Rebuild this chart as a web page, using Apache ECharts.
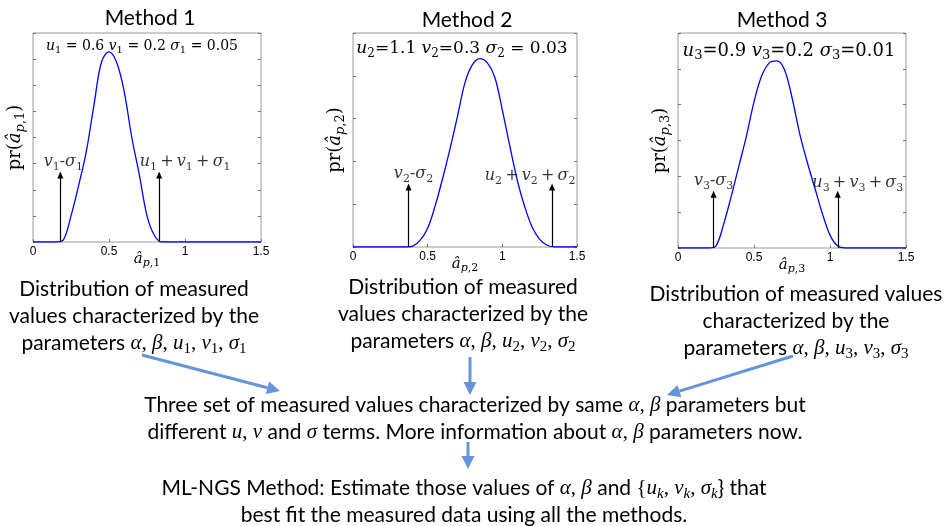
<!DOCTYPE html>
<html>
<head>
<meta charset="utf-8">
<script src="https://cdn.jsdelivr.net/npm/echarts@6/dist/echarts.min.js"></script>
<style>
  html, body { margin: 0; padding: 0; background: #ffffff; }
  #chart { width: 944px; height: 526px; }
</style>
</head>
<body>
<div id="chart"></div>
<script>
// Sample positions along the estimate axis (shared by all three methods)
const xGrid = [0, 0.05, 0.1, 0.15, 0.2, 0.25, 0.3, 0.35, 0.4, 0.45, 0.5, 0.55, 0.6, 0.65, 0.7, 0.75,
               0.8, 0.85, 0.9, 0.95, 1.0, 1.05, 1.1, 1.15, 1.2, 1.25, 1.3, 1.35, 1.4, 1.45, 1.5];
const xTickLabels = ['0', '0.5', '1', '1.5'];

// Density of the measured values for each method
const method1Density = [0, 0, 0, 0, 0.04, 0.5, 1.08, 1.72, 2.6, 3.44, 3.64, 3.44, 2.88, 2.0, 1.28, 0.5,
                        0.12, 0, 0, 0, 0, 0, 0, 0, 0, 0, 0, 0, 0, 0, 0];
const method2Density = [0, 0, 0, 0, 0, 0, 0, 0, 0.01, 0.08, 0.22, 0.48, 0.8, 1.15, 1.53, 1.92,
                        2.13, 2.2, 2.15, 1.98, 1.6, 1.18, 0.78, 0.47, 0.23, 0.09, 0.02, 0, 0, 0, 0];
const method3Density = [0, 0, 0, 0, 0, 0.03, 0.33, 0.72, 1.14, 1.56, 2.04, 2.4, 2.58, 2.61, 2.49, 2.1,
                        1.6, 1.2, 0.84, 0.48, 0.18, 0.03, 0, 0, 0, 0, 0, 0, 0, 0, 0];

// Support bounds (v - sigma, u + v + sigma) marked by arrows, and arrow heights
const method1Bounds = [0.18, 0.83];
const method2Bounds = [0.372, 1.333];
const method3Bounds = [0.234, 1.051];
const arrowHeights = [1.28, 0.7, 0.75];
const yMax = [4, 2.5, 3];

const titles = ['Method 1', 'Method 2', 'Method 3'];

const TEX = "'DejaVu Serif', 'Liberation Serif', serif";
const SERIF = "'Liberation Serif', 'DejaVu Serif', serif";
const SANS = "Lato, 'Open Sans', sans-serif";
const THIN = '\u2009';

function mathRich(size, family) {
  const fam = family || TEX;
  const lh = size + 5;
  const sub = Math.round(size * 0.7);
  return {
    r:  { color: '#000', fontFamily: fam, fontSize: size, lineHeight: lh },
    m:  { color: '#000', fontFamily: fam, fontStyle: 'italic', fontSize: size, lineHeight: lh },
    s:  { color: '#000', fontFamily: fam, fontSize: sub, lineHeight: sub, verticalAlign: 'bottom' },
    si: { color: '#000', fontFamily: fam, fontStyle: 'italic', fontSize: sub, lineHeight: sub, verticalAlign: 'bottom' }
  };
}

const grids = [
  { left: 33, top: 33, width: 228, height: 209 },
  { left: 353, top: 33, width: 224, height: 214 },
  { left: 678, top: 33, width: 228, height: 215 }
];

const densities = [method1Density, method2Density, method3Density];
const bounds = [method1Bounds, method2Bounds, method3Bounds];

function lowerLabel(k) { return '{m|v}{s|' + k + '}{r|-}{m|σ}{s|' + k + '}'; }
function upperLabel(k) {
  return '{m|u}{s|' + k + '}{r|' + THIN + '+' + THIN + '}{m|v}{s|' + k + '}{r|' + THIN + '+' + THIN + '}{m|σ}{s|' + k + '}';
}
const boundLabelOffsets = [[[3, 0], [26, 0]], [[5, 0], [-22, 2]], [[0, 0], [20, 2]]];

const xAxes = [], yAxes = [], series = [];
grids.forEach((g, i) => {
  const k = i + 1;
  xAxes.push({
    type: 'value', gridIndex: i, min: 0, max: 1.5, interval: 0.5,
    axisLine: { show: false },
    axisTick: { show: true, inside: true, length: 3, lineStyle: { color: '#777' } },
    splitLine: { show: false },
    axisLabel: {
      margin: 4, color: '#000', fontFamily: "'Liberation Sans', Arial, sans-serif", fontSize: 12,
      formatter: v => xTickLabels[Math.round(v / 0.5)]
    },
    name: '{m|â}{si|p}{s|,' + k + '}',
    nameLocation: 'middle', nameGap: 7, nameMoveOverlap: false,
    nameTextStyle: { rich: mathRich(15) }
  });
  yAxes.push({
    type: 'value', gridIndex: i, min: 0, max: yMax[i], interval: 0.5, position: 'left',
    axisLine: { show: false },
    axisTick: { show: true, inside: true, length: 3, lineStyle: { color: '#777' } },
    axisLabel: { show: false },
    splitLine: { show: false },
    name: '{r|pr(}{m|â}{si|p}{s|,' + k + '}{r|)}',
    nameLocation: 'middle', nameRotate: 90, nameGap: 6,
    nameTextStyle: { rich: mathRich(18) }
  });
  yAxes.push({
    type: 'value', gridIndex: i, min: 0, max: yMax[i], interval: 0.5, position: 'right',
    axisLine: { show: false },
    axisTick: { show: true, inside: true, length: 3, lineStyle: { color: '#777' } },
    axisLabel: { show: false },
    splitLine: { show: false }
  });
  series.push({
    type: 'line', xAxisIndex: i, yAxisIndex: i * 2,
    data: xGrid.map((x, j) => [x, densities[i][j]]),
    showSymbol: false, smooth: 0.35,
    lineStyle: { color: '#0000ff', width: 1.3 },
    silent: true,
    markLine: {
      silent: true,
      symbol: ['none', 'triangle'],
      symbolSize: [6, 7],
      lineStyle: { color: '#000', width: 1.2, type: 'solid' },
      label: { show: false },
      data: bounds[i].map(b => [{ coord: [b, 0] }, { coord: [b, arrowHeights[i]] }])
    },
    z: 3
  });
  series.push({
    type: 'scatter', xAxisIndex: i, yAxisIndex: i * 2,
    symbolSize: 1, itemStyle: { color: 'rgba(0,0,0,0)' }, silent: true,
    data: bounds[i].map((b, j) => ({
      value: [b, arrowHeights[i]],
      label: { offset: boundLabelOffsets[i][j], formatter: j === 0 ? lowerLabel(k) : upperLabel(k) }
    })),
    label: { show: true, position: 'top', distance: 2, color: '#000', rich: mathRich(16) },
    z: 4
  });
});

// Blue flow arrows between the text blocks
const ARROW_BLUE = '#6495d8';
function flowArrow(x1, y1, x2, y2) {
  const dx = x2 - x1, dy = y2 - y1;
  const len = Math.sqrt(dx * dx + dy * dy);
  const ux = dx / len, uy = dy / len;
  const head = 13, half = 6.5;
  const bx = x2 - ux * head, by = y2 - uy * head;
  return [
    { type: 'line', shape: { x1: x1, y1: y1, x2: bx, y2: by },
      style: { stroke: ARROW_BLUE, lineWidth: 3 }, silent: true },
    { type: 'polygon',
      shape: { points: [[x2, y2], [bx - uy * half, by + ux * half], [bx + uy * half, by - ux * half]] },
      style: { fill: ARROW_BLUE }, silent: true }
  ];
}

function textEl(x, y, text, size) {
  return {
    type: 'text', x: x, y: y, silent: true,
    style: {
      text: text, align: 'center', verticalAlign: 'middle',
      fontFamily: SANS, fontSize: size, fill: '#000', lineHeight: size + 6,
      rich: mathRich(size, SERIF)
    }
  };
}

const graphics = [];
// panel titles
[[150, 18], [467, 20], [782, 20]].forEach((p, i) => {
  graphics.push({ type: 'text', x: p[0], y: p[1], silent: true,
    style: { text: titles[i], align: 'center', verticalAlign: 'middle', fontFamily: SANS, fontSize: 21, fill: '#000' } });
});
// parameter settings inside each panel
const paramText = [
  '{m|u}{s|1}{r| = 0.6 }{m|v}{s|1}{r| = 0.2 }{m|σ}{s|1}{r| = 0.05}',
  '{m|u}{s|2}{r|=1.1 }{m|v}{s|2}{r|=0.3 }{m|σ}{s|2}{r| = 0.03}',
  '{m|u}{s|3}{r|=0.9 }{m|v}{s|3}{r|=0.2 }{m|σ}{s|3}{r|=0.01}'
];
const paramPos = [[142, 46, 14], [462, 49, 17], [789, 51, 18]];
paramPos.forEach((p, i) => {
  graphics.push({ type: 'text', x: p[0], y: p[1], silent: true,
    style: { text: paramText[i], align: 'center', verticalAlign: 'middle', rich: mathRich(p[2]) } });
});

// descriptive text blocks
graphics.push(textEl(134, 316,
  'Distribution of measured\nvalues characterized by the\nparameters {m|α}{r|, }{m|β}{r|, }{m|u}{s|1}{r|, }{m|v}{s|1}{r|, }{m|σ}{s|1}', 21));
graphics.push(textEl(463, 314,
  'Distribution of measured\nvalues characterized by the\nparameters {m|α}{r|, }{m|β}{r|, }{m|u}{s|2}{r|, }{m|v}{s|2}{r|, }{m|σ}{s|2}', 21));
graphics.push(textEl(796, 321,
  'Distribution of measured values\ncharacterized by the\nparameters {m|α}{r|, }{m|β}{r|, }{m|u}{s|3}{r|, }{m|v}{s|3}{r|, }{m|σ}{s|3}', 21));
graphics.push(textEl(475, 419,
  'Three set of measured values characterized by same {m|α}{r|, }{m|β} parameters but\ndifferent {m|u}{r|, }{m|v} and {m|σ} terms. More information about {m|α}{r|, }{m|β} parameters now.', 21));
graphics.push(textEl(464, 502,
  'ML-NGS Method: Estimate those values of {m|α}{r|, }{m|β} and {r|{}{m|u}{si|k}{r|, }{m|v}{si|k}{r|, }{m|σ}{si|k}} that\nbest fit the measured data using all the methods.', 21));

flowArrow(142, 355, 280, 391).forEach(e => graphics.push(e));
flowArrow(470, 357, 470, 395).forEach(e => graphics.push(e));
flowArrow(793, 356, 667, 395).forEach(e => graphics.push(e));
flowArrow(468, 442, 468, 469).forEach(e => graphics.push(e));

const chart = echarts.init(document.getElementById('chart'), null, { renderer: 'canvas' });
chart.setOption({
  backgroundColor: '#ffffff',
  animation: false,
  grid: grids.map(g => Object.assign({ show: true, borderColor: '#9a9a9a', borderWidth: 1, backgroundColor: 'transparent' }, g)),
  xAxis: xAxes,
  yAxis: yAxes,
  series: series,
  graphic: graphics
});
</script>
</body>
</html>
